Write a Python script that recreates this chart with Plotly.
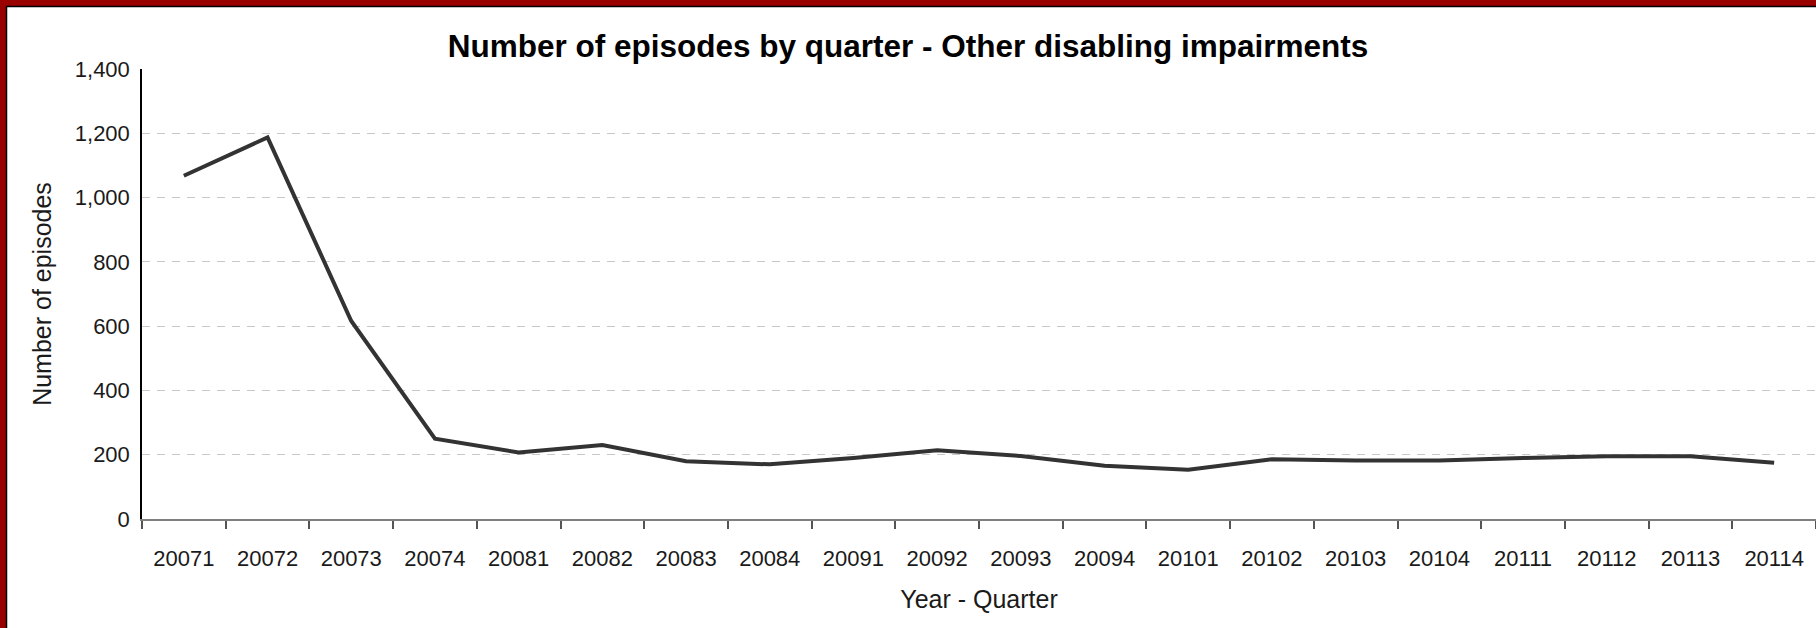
"""Line chart: number of episodes by quarter, other disabling impairments."""

import plotly.graph_objects as go

# ---------------------------------------------------------------------------
# Data
# ---------------------------------------------------------------------------

quarters = [
    "20071", "20072", "20073", "20074",
    "20081", "20082", "20083", "20084",
    "20091", "20092", "20093", "20094",
    "20101", "20102", "20103", "20104",
    "20111", "20112", "20113", "20114",
]
episodes = [
    1068, 1187, 616, 250,
    207, 230, 180, 170,
    190, 214, 196, 166,
    153, 186, 182, 182,
    190, 195, 195, 175,
]
y_ticks = [0, 200, 400, 600, 800, 1000, 1200, 1400]

# ---------------------------------------------------------------------------
# Theme
# ---------------------------------------------------------------------------

FONT = "Liberation Sans Narrow, Arial Narrow, Liberation Sans, Arial, sans-serif"
LINE_COLOR = "#333333"
GRID_COLOR = "#c8c8c8"
BORDER_RED = "#990000"
TEXT = "#1a1a1a"

W, H = 1816, 628
M_L, M_R, M_T, M_B = 142, 0, 69, 109

fig = go.Figure(go.Scatter(
    x=quarters, y=episodes,
    mode="lines",
    line=dict(color=LINE_COLOR, width=4),
    hoverinfo="x+y",
))

fig.update_layout(
    width=W, height=H,
    margin=dict(l=M_L, r=M_R, t=M_T, b=M_B, autoexpand=False),
    paper_bgcolor="white",
    plot_bgcolor="white",
    font=dict(family=FONT, color=TEXT, size=22),
    showlegend=False,
    title=dict(
        text="<b>Number of episodes by quarter - Other disabling impairments</b>",
        font=dict(family=FONT, size=31.5, color="#000000"),
        xref="container", x=0.5, xanchor="center",
        yref="container", y=1 - 46 / H, yanchor="middle",
    ),
    xaxis=dict(
        type="category",
        range=[-0.5, len(quarters) - 0.5],
        tickson="boundaries",
        ticks="outside", ticklen=8, tickcolor="#555555", tickwidth=1.5,
        showline=True, linecolor="#7f7f7f", linewidth=1.5,
        showgrid=False, zeroline=False,
        tickfont=dict(size=22),
        ticklabelstandoff=19,
        title=dict(text="Year - Quarter", font=dict(size=25), standoff=20),
    ),
    yaxis=dict(
        range=[0, 1400],
        tickvals=y_ticks,
        tickformat=",d",
        ticks="",
        showline=True, linecolor="#000000", linewidth=1.5,
        showgrid=True, gridcolor=GRID_COLOR, gridwidth=1, griddash="8px,7px",
        zeroline=False,
        tickfont=dict(size=22),
        ticklabelstandoff=6,
        title=dict(text="Number of episodes", font=dict(size=25), standoff=16),
    ),
)

# Dark-red frame on the top and left edges, with a thin black inner rule
fig.add_shape(type="rect", xref="paper", yref="paper",
              xsizemode="pixel", ysizemode="pixel", xanchor=0, yanchor=0,
              x0=-M_L, x1=-M_L + 6, y0=-M_B, y1=H - M_B,
              fillcolor=BORDER_RED, line_width=0, layer="above")
fig.add_shape(type="rect", xref="paper", yref="paper",
              xsizemode="pixel", ysizemode="pixel", xanchor=0, yanchor=0,
              x0=-M_L, x1=W - M_L, y0=H - M_B - 6, y1=H - M_B,
              fillcolor=BORDER_RED, line_width=0, layer="above")
fig.add_shape(type="line", xref="paper", yref="paper",
              xsizemode="pixel", ysizemode="pixel", xanchor=0, yanchor=0,
              x0=-M_L + 6.5, x1=-M_L + 6.5, y0=-M_B, y1=H - M_B - 6,
              line=dict(color="#000000", width=1.5), layer="above")
fig.add_shape(type="line", xref="paper", yref="paper",
              xsizemode="pixel", ysizemode="pixel", xanchor=0, yanchor=0,
              x0=-M_L + 6, x1=W - M_L, y0=H - M_B - 6.5, y1=H - M_B - 6.5,
              line=dict(color="#000000", width=1.5), layer="above")

# Remove the browser's default body margin so the figure sits at the corner
fig.write_html(
    "out.html",
    config={"displayModeBar": False},
    post_script="document.body.style.margin='0';document.body.style.overflow='hidden';",
)
